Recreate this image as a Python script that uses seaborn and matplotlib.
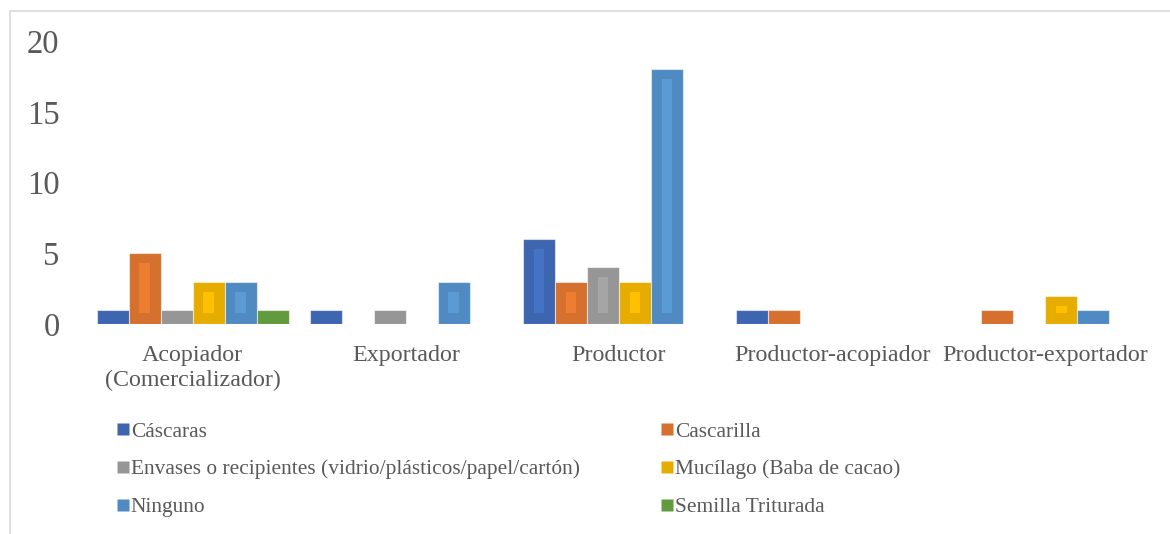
import matplotlib
matplotlib.use("Agg")
import matplotlib.pyplot as plt
from matplotlib.lines import Line2D
from matplotlib.patches import Rectangle
from matplotlib.font_manager import FontProperties
import seaborn as sns
import pandas as pd

categories = ["Acopiador\n(Comercializador)", "Exportador", "Productor",
              "Productor-acopiador", "Productor-exportador"]
series = ["Cáscaras", "Cascarilla",
          "Envases o recipientes (vidrio/plásticos/papel/cartón)",
          "Mucílago (Baba de cacao)", "Ninguno", "Semilla Triturada"]
cascaras = [1, 1, 6, 1, 0]
cascarilla = [5, 0, 3, 1, 1]
envases = [1, 1, 4, 0, 0]
mucilago = [3, 0, 3, 0, 2]
ninguno = [3, 3, 18, 0, 1]
semilla = [1, 0, 0, 0, 0]
yticks = [0, 5, 10, 15, 20]

outer_colors = ["#3D65B0", "#D5702E", "#969696", "#E6AD00", "#4F8BC2", "#629B3E"]
inner_colors = ["#4472C4", "#ED7D31", "#A5A5A5", "#FFC000", "#5B9BD5", "#70AD47"]

values = [cascaras, cascarilla, envases, mucilago, ninguno, semilla]
rows = []
for s, vals in zip(series, values):
    for c, v in zip(categories, vals):
        rows.append({"cat": c, "serie": s, "val": v})
df = pd.DataFrame(rows)

sns.set_theme(style="white")
plt.rcParams["font.family"] = ["Liberation Serif", "DejaVu Serif"]
plt.rcParams["font.serif"] = ["Liberation Serif", "DejaVu Serif"]
FAM = "Liberation Serif"
text_color = "#595959"

fig = plt.figure(figsize=(11.7, 5.34), dpi=100)
ax = fig.add_axes([86 / 1170, 210 / 534, (1152 - 86) / 1170, (493 - 210) / 534])

sns.barplot(data=df, x="cat", y="val", hue="serie", order=categories,
            hue_order=series, palette=outer_colors, width=0.9, saturation=1,
            edgecolor=(1, 1, 1, 0.55), linewidth=0.8, legend=False, ax=ax)

ax.set_ylim(0, 20)
ax.set_xlim(-0.5, len(categories) - 0.5)
ax.set_yticks(yticks)
ax.set_yticklabels([str(t) for t in yticks])
ax.set_xlabel("")
ax.set_ylabel("")
for sp in ax.spines.values():
    sp.set_visible(False)
ax.tick_params(axis="y", length=0, pad=19, labelsize=23.5, labelcolor=text_color)
ax.tick_params(axis="x", length=0, pad=15, labelsize=17.3, labelcolor=text_color)
for lab in ax.get_xticklabels() + ax.get_yticklabels():
    lab.set_fontfamily(FAM)
for lab in ax.get_xticklabels():
    lab.set_linespacing(1.25)

# inner lighter strip (Excel-like gradient look)
fig.canvas.draw()
px_per_unit = ax.transData.transform((0, 1))[1] - ax.transData.transform((0, 0))[1]
top_inset = 10 / px_per_unit
bot_inset = 11 / px_per_unit
for cont, ic in zip(ax.containers, inner_colors):
    for p in cont.patches:
        h = p.get_height()
        if h - top_inset - bot_inset <= 0:
            continue
        w = p.get_width()
        x0 = p.get_x() + w / 3
        ax.add_patch(Rectangle((x0, bot_inset), w / 3, h - top_inset - bot_inset,
                               facecolor=ic, edgecolor="none", zorder=p.get_zorder() + 0.1))

# legend: rows Cáscaras/Cascarilla, Envases/Mucílago, Ninguno/Semilla
order = [0, 2, 4, 1, 3, 5]
handles = [Line2D([0], [0], marker="s", linestyle="none", markersize=8,
                  markerfacecolor=outer_colors[i], markeredgecolor="none") for i in order]
labels = [series[i] for i in order]
fig.legend(handles, labels, loc="upper left", bbox_to_anchor=(117 / 1170, 1 - 422 / 534),
           ncol=2, frameon=False, prop=FontProperties(family=FAM, size=15.4),
           labelcolor=text_color,
           handlelength=0.55, handletextpad=0.1, columnspacing=3.8,
           labelspacing=0.82, borderpad=0, borderaxespad=0)

# chart area border (top and left visible)
fig.add_artist(Line2D([10 / 1170, 10 / 1170], [0, 1 - 11 / 534], transform=fig.transFigure,
                      color="#D9D9D9", linewidth=1.2))
fig.add_artist(Line2D([10 / 1170, 1], [1 - 11 / 534, 1 - 11 / 534], transform=fig.transFigure,
                      color="#D9D9D9", linewidth=1.2))

fig.savefig("out.png", dpi=100, facecolor="white")
